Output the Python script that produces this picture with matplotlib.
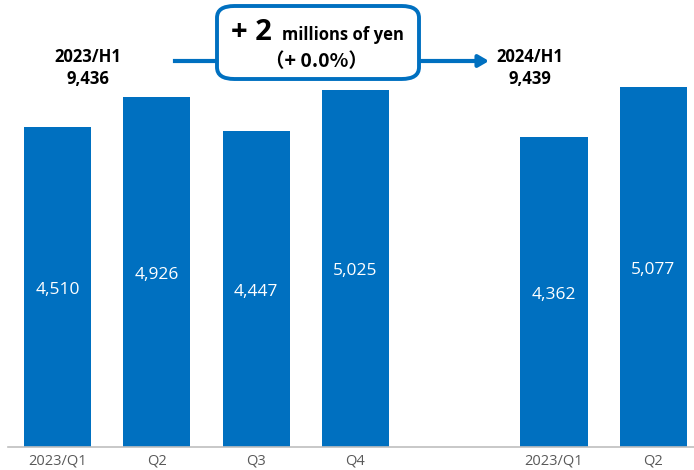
import matplotlib.pyplot as plt
from matplotlib.patches import FancyBboxPatch

# ============================== data =========================================

labels = ["2023/Q1", "Q2", "Q3", "Q4", "2023/Q1", "Q2"]
positions = [0, 1, 2, 3, 5, 6]
values = [4510, 4926, 4447, 5025, 4362, 5077]
h1_labels = ["2023/H1", "2024/H1"]
h1_values = [9436, 9439]
diff_text = "+ 2"
diff_unit = "millions of yen"
diff_pct = "（+ 0.0%）"

BLUE = "#0070C0"

# ============================== plot =========================================

plt.rcParams["font.family"] = ["Open Sans", "DejaVu Sans"]

fig = plt.figure(figsize=(6.94, 4.70), dpi=100)
ax = fig.add_axes([8 / 694, 23 / 470, 686 / 694, 447 / 470])

ax.bar(positions, values, width=0.675, color=BLUE)
for x, v in zip(positions, values):
    ax.text(x, v / 2 - 40, "{:,}".format(v), color="white", fontsize=12.5,
            ha="center", va="center")

ax.set_xlim(-0.4985, 6.41)
ax.set_ylim(0, 6296)
ax.set_xticks(positions)
ax.set_xticklabels(labels, color="#595959", fontsize=10.5)
ax.tick_params(axis="x", length=0, pad=5)
ax.set_yticks([])
for side in ["top", "right", "left"]:
    ax.spines[side].set_visible(False)
ax.spines["bottom"].set_color("#BFBFBF")
ax.spines["bottom"].set_linewidth(1.2)

# half-year totals
tr = fig.transFigure
for (px, lab, val) in zip([88 / 694, 530 / 694], h1_labels, h1_values):
    fig.text(px, 1 - 57 / 470, lab, transform=tr, fontsize=12, weight="bold",
             ha="center", va="center")
    fig.text(px, 1 - 79 / 470, "{:,}".format(val), transform=tr, fontsize=12,
             weight="bold", ha="center", va="center")

# arrow through the box
fig.add_artist(plt.Line2D([175 / 694, 216 / 694], [1 - 61 / 470] * 2,
                          color=BLUE, lw=3, transform=tr))
ax.annotate("", xy=(489 / 694, 1 - 61 / 470), xytext=(419 / 694, 1 - 61 / 470),
            xycoords=tr, textcoords=tr,
            arrowprops=dict(arrowstyle="-|>,head_length=0.6,head_width=0.35",
                            color=BLUE, lw=3, shrinkA=0, shrinkB=0))

box = FancyBboxPatch((217 / 694, 1 - 79 / 470), 202 / 694, 73 / 470,
                     boxstyle="round,pad=0,rounding_size=0.025",
                     transform=tr, facecolor="white", edgecolor=BLUE, lw=2.8)
fig.add_artist(box)

fig.text(272 / 694, 1 - 33 / 470, diff_text, transform=tr, fontsize=21,
         weight="bold", ha="right", va="center")
fig.text(282 / 694, 1 - 35 / 470, diff_unit, transform=tr, fontsize=12,
         weight="bold", ha="left", va="center")
fig.text(316 / 694, 1 - 62 / 470, diff_pct, transform=tr, fontsize=14,
         weight="bold", ha="center", va="center",
         family=["Noto Sans CJK JP", "DejaVu Sans"])

fig.savefig("out.png", dpi=100)
